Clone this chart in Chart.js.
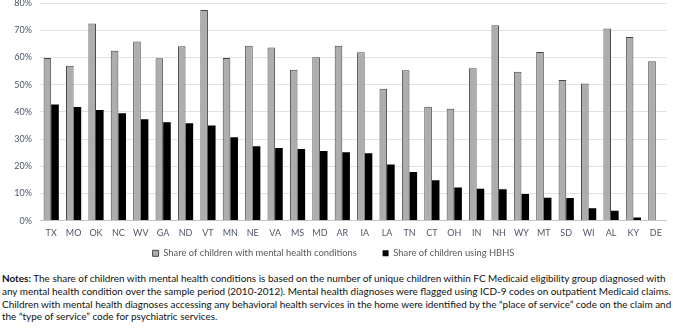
<!DOCTYPE html>
<html>
<head>
<meta charset="utf-8">
<script src="https://cdn.jsdelivr.net/npm/chart.js@4/dist/chart.umd.min.js"></script>
<style>
  html, body { margin: 0; padding: 0; background: #fff; }
  #wrap { position: relative; width: 673px; height: 329px; overflow: hidden; }
  #box { position: absolute; left: 0; top: 0; width: 673px; height: 268px; }
  #notes { position: absolute; left: 2px; top: 272px; font-family: Lato, "Noto Sans", sans-serif;
           font-size: 10px; color: #111; line-height: 12.8px; white-space: nowrap; }
</style>
</head>
<body>
<div id="wrap">
  <div id="box"><canvas id="chart"></canvas></div>
  <div id="notes">
    <div><b>Notes:</b> The share of children with mental health conditions is based on the number of unique children within FC Medicaid eligibility group diagnosed with</div>
    <div><span id="line2">any mental health condition over the sample period (2010-2012). Mental health diagnoses were flagged using ICD-9 codes on outpatient Medicaid claims.</span></div>
    <div>Children with mental health diagnoses accessing any behavioral health services in the home were identified by the “place of service” code on the claim and</div>
    <div>the “type of service” code for psychiatric services.</div>
  </div>
</div>
<script>
let states = ["TX", "MO", "OK", "NC", "WV", "GA", "ND", "VT", "MN", "NE", "VA", "MS", "MD", "AR",
              "IA", "LA", "TN", "CT", "OH", "IN", "NH", "WY", "MT", "SD", "WI", "AL", "KY", "DE"];
let mentalShare = [59.8, 56.9, 72.5, 62.4, 65.8, 59.7, 64.1, 77.4, 59.8, 64.3, 63.6, 55.5, 60.1, 64.3,
                   61.9, 48.5, 55.3, 41.9, 41.1, 56.0, 71.8, 54.7, 62.0, 51.7, 50.4, 70.6, 67.5, 58.6];
let hbhsShare = [42.7, 41.8, 40.7, 39.5, 37.3, 36.2, 35.8, 35.0, 30.6, 27.3, 26.7, 26.3, 25.6, 25.1,
                 24.8, 20.6, 17.9, 14.8, 12.2, 11.7, 11.5, 9.8, 8.4, 8.3, 4.5, 3.6, 1.1, null];
let seriesNames = ["Share of children with mental health conditions", "Share of children using HBHS"];
let yTicks = [0, 10, 20, 30, 40, 50, 60, 70, 80];

let fam = "Lato, 'Noto Sans', sans-serif";
let inkColor = "#4d5666";

function build() {
  // fit the notes to the width of the original
  let notes = document.querySelector("#notes");
  let w = document.querySelector("#line2").getBoundingClientRect().width;
  notes.style.fontSize = (10 * 670 / w) + "px";

  let tickFont = { family: fam, size: 9 };

  new Chart(document.querySelector("#chart"), {
    type: "bar",
    data: {
      labels: states,
      datasets: [{
        label: seriesNames[0],
        data: mentalShare,
        backgroundColor: "#adadad",
        borderColor: "#474747",
        borderWidth: 1,
        categoryPercentage: 0.68,
        barPercentage: 1
      }, {
        label: seriesNames[1],
        data: hbhsShare,
        backgroundColor: "#000",
        borderColor: "#000",
        borderWidth: 0,
        categoryPercentage: 0.68,
        barPercentage: 1
      }]
    },
    options: {
      maintainAspectRatio: false,
      animation: false,
      layout: { padding: { top: 3, right: 6, left: 0, bottom: 0 } },
      scales: {
        x: {
          grid: { display: false, drawTicks: false },
          border: { display: false },
          ticks: { color: inkColor, font: tickFont, padding: 7, maxRotation: 0, autoSkip: false },
          afterFit: s => { s.height = 21; }
        },
        y: {
          min: 0, max: 80,
          afterBuildTicks: s => { s.ticks = yTicks.map(v => ({ value: v })); },
          grid: { color: c => c.tick.value === 0 ? "#c4c8ce" : "#dfe2e6", drawTicks: false },
          border: { display: false },
          ticks: { color: inkColor, font: tickFont, padding: 8, callback: v => v + "%" },
          afterFit: s => { s.width = 40; s.paddingTop = 0; }
        }
      },
      plugins: {
        tooltip: { enabled: false },
        legend: {
          position: "bottom",
          labels: {
            color: "#595959",
            font: { family: fam, size: 9.4 },
            boxWidth: 6,
            boxHeight: 6,
            padding: 7,
            generateLabels: chart => {
              let items = Chart.defaults.plugins.legend.labels.generateLabels(chart);
              items[0].text += "\u2002\u2002\u2002\u2002";
              return items;
            }
          }
        }
      }
    }
  });
}

Promise.all([document.fonts.load("10px Lato"), document.fonts.load("bold 10px Lato")])
  .then(build, build);
</script>
</body>
</html>
